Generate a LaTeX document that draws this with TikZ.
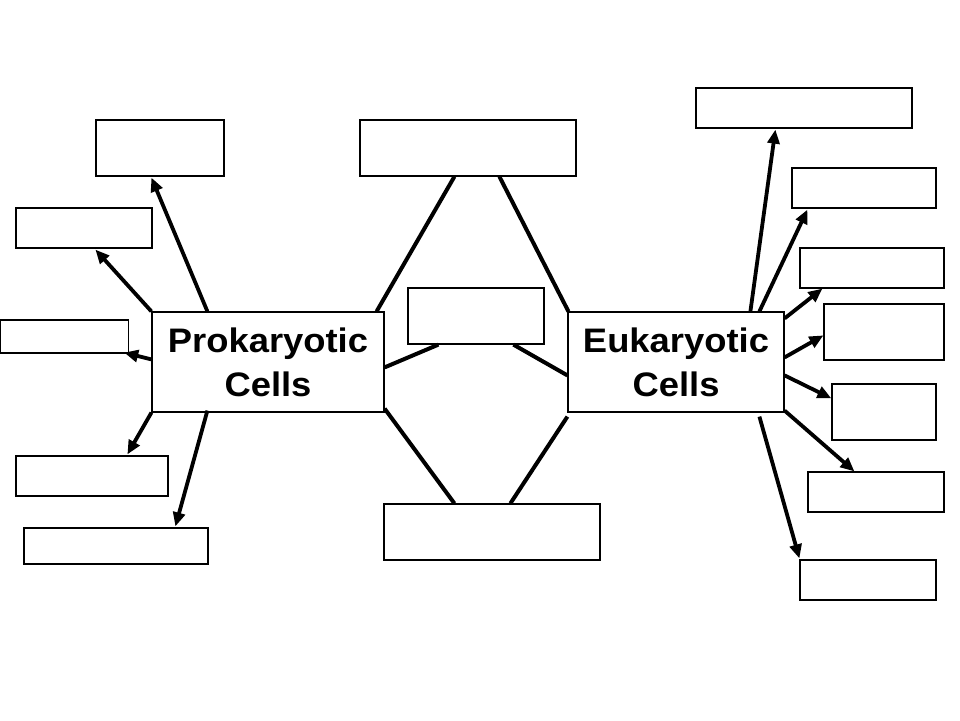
\documentclass[tikz,border=0pt]{standalone}
\usepackage{fontspec}
\setmainfont{Liberation Sans}
\usetikzlibrary{arrows.meta,calc}
\newcommand{\wideline}[1]{\scalebox{1.07}[1]{#1}}
\begin{document}
\begin{tikzpicture}[x=1pt,y=-1pt,
  box/.style={draw=black,line width=1.2pt,fill=white,inner sep=0pt,
    minimum width=#1,anchor=center},
  main/.style={draw=black,line width=1.2pt,fill=white,inner sep=0pt,
    minimum height=100pt,align=center,
    font=\fontsize{34}{44}\selectfont\bfseries},
  link/.style={line width=4pt},
  arr/.style={line width=3.8pt,-{Triangle[length=14pt,width=12pt]}}]
\useasboundingbox[fill=white] (0,0) rectangle (960,720);
% main nodes
\node[main,minimum width=232pt] (prok) at (268,362) {\wideline{Prokaryotic}\\\wideline{Cells}};
\node[main,minimum width=216pt] (euk) at (676,362) {\wideline{Eukaryotic}\\\wideline{Cells}};
% left boxes
\node[box=128pt,minimum height=56pt] (a) at (160,148) {};
\node[box=136pt,minimum height=40pt] (b) at (84,228) {};
\node[box=128pt,minimum height=33pt] (c) at (64.6,336.5) {};
\node[box=152pt,minimum height=40pt] (d) at (92,476) {};
\node[box=184pt,minimum height=36pt] (e) at (116,546) {};
% middle boxes
\node[box=216pt,minimum height=56pt] (tm) at (468,148) {};
\node[box=136pt,minimum height=56pt] (cm) at (476,316) {};
\node[box=216pt,minimum height=56pt] (bm) at (492,532) {};
% right boxes
\node[box=216pt,minimum height=40pt] (r1) at (804,108) {};
\node[box=144pt,minimum height=40pt] (r2) at (864,188) {};
\node[box=144pt,minimum height=40pt] (r3) at (872,268) {};
\node[box=120pt,minimum height=56pt] (r4) at (884,332) {};
\node[box=104pt,minimum height=56pt] (r5) at (884,412) {};
\node[box=136pt,minimum height=40pt] (r6) at (876,492) {};
\node[box=136pt,minimum height=40pt] (r7) at (868,580) {};
% prokaryotic arrows
\draw[arr] ($(prok.north west)+(56,0)$) -- ($(a.south west)+(56,1)$);
\draw[arr] (prok.north west) -- ($(b.south west)+(80,1)$);
\draw[arr] ($(prok.north west)+(0,48)$) -- ($(c.south east)+(-5,-1)$);
\draw[arr] (prok.south west) -- ($(d.north west)+(112,-1)$);
\draw[arr] ($(prok.south west)+(56,-2)$) -- ($(e.north west)+(152,-1)$);
% eukaryotic arrows
\draw[arr] ($(euk.north west)+(183,0)$) -- ($(r1.south west)+(80,1)$);
\draw[arr] ($(euk.north west)+(192,0)$) -- ($(r2.south west)+(16,1)$);
\draw[arr] ($(euk.north east)+(0,7)$) -- ($(r3.south west)+(23,0)$);
\draw[arr] ($(euk.north east)+(0,46)$) -- ($(r4.north west)+(0,32)$);
\draw[arr] ($(euk.north east)+(0,64)$) -- ($(r5.north west)+(0,15)$);
\draw[arr] ($(euk.south east)+(0,-2)$) -- ($(r6.north west)+(47,0)$);
\draw[arr] ($(euk.south west)+(192,4)$) -- ($(r7.north west)+(0,-1)$);
% middle links
\draw[link] ($(tm.south west)+(95,0)$) -- ($(prok.north east)+(-8,0)$);
\draw[link] ($(tm.south west)+(140,0)$) -- ($(euk.north west)+(1,0)$);
\draw[link] ($(cm.south west)+(31,0)$) -- ($(prok.north east)+(0,56)$);
\draw[link] ($(cm.south west)+(106,0)$) -- ($(euk.north west)+(0,64)$);
\draw[link] ($(prok.south east)+(0,-4)$) -- ($(bm.north west)+(71,0)$);
\draw[link] ($(euk.south west)+(0,4)$) -- ($(bm.north west)+(127,0)$);
\end{tikzpicture}
\end{document}
